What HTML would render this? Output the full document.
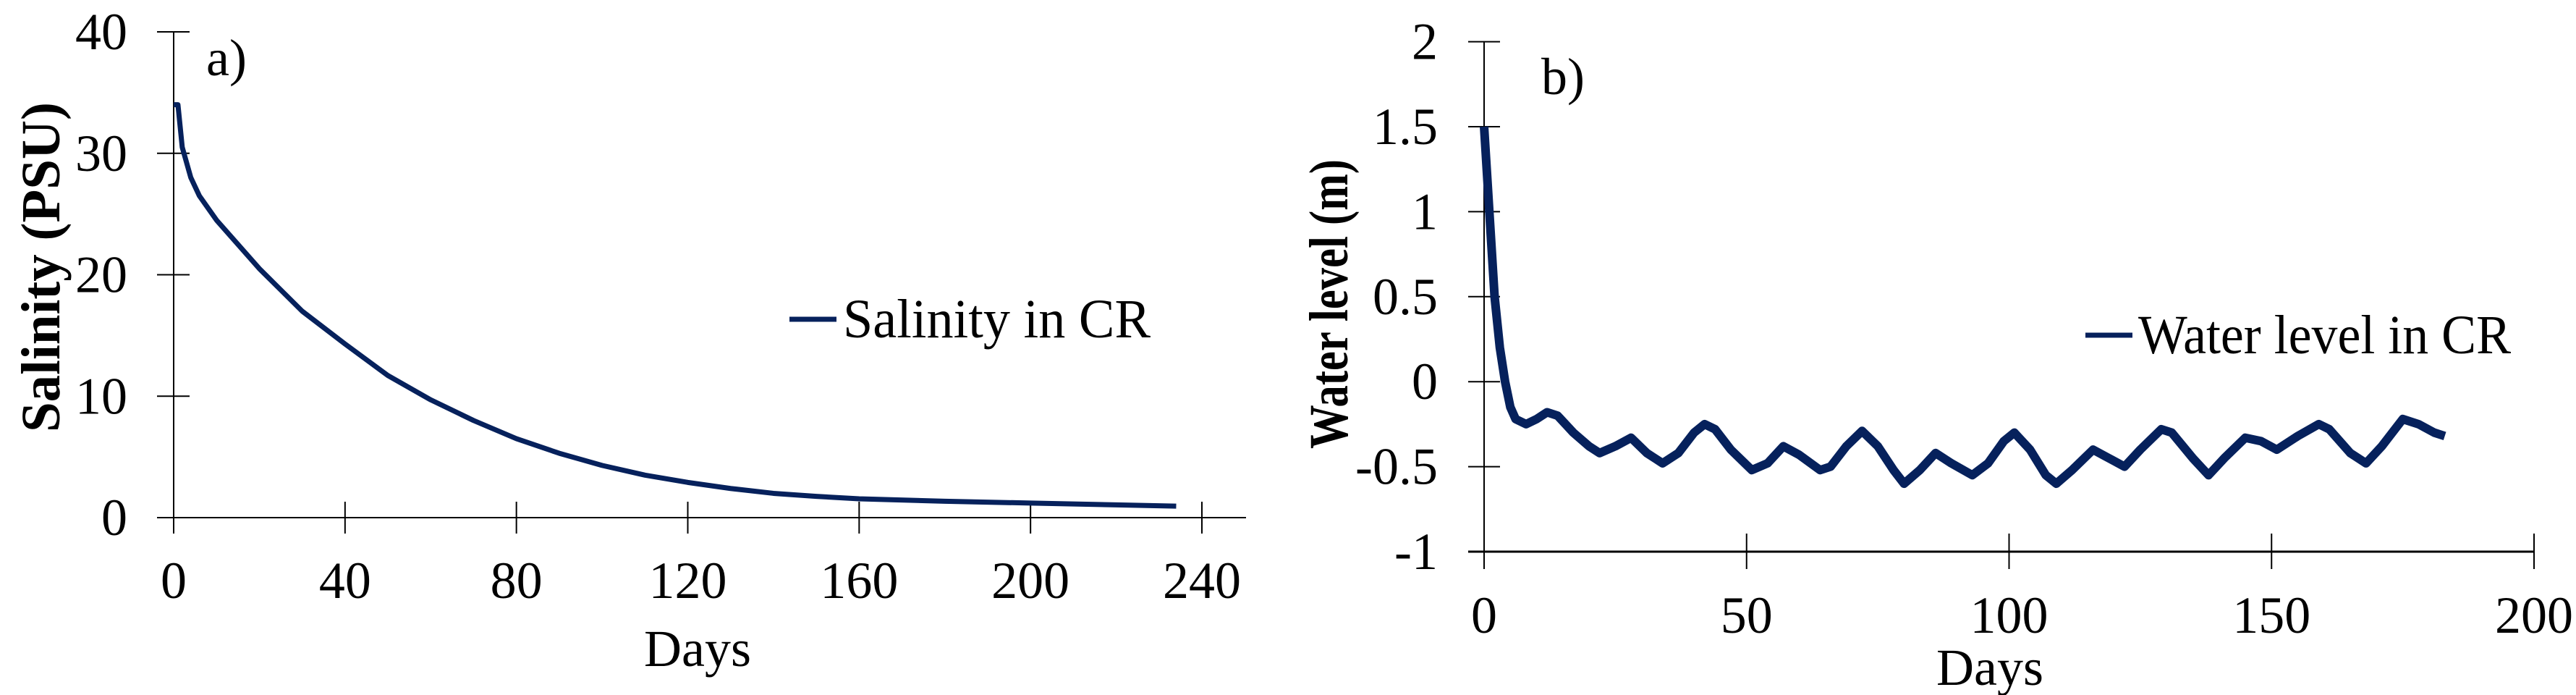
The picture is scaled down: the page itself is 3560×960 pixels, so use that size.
<!DOCTYPE html>
<html><head><meta charset="utf-8"><style>
html,body{margin:0;padding:0;background:#fff;}
svg{display:block;font-family:"Liberation Serif",serif;}
</style></head><body>
<svg id="chart" width="3560" height="960" viewBox="0 0 3560 960"></svg>
<script>
// Panel a data
const daysA = [0,1,2,4,6,10,15,20,30,40,50,60,70,80,90,100,110,120,130,140,150,160,180,200,220,234];
const salinity = [34,34,30.5,28,26.5,24.5,22.5,20.5,17,14.3,11.7,9.7,8,6.5,5.3,4.3,3.5,2.9,2.4,2.0,1.75,1.55,1.35,1.2,1.05,0.95];
const xTicksA = [0,40,80,120,160,200,240];
const yTicksA = [0,10,20,30,40];
// Panel b data
const daysB = [0,1,2,3,4,5,6,8,10,12,14,17,20,22,25,28,31,34,37,40,42,44,47,51,54,57,60,64,66,69,72,75,78,80,83,86,89,93,96,99,101,104,107,109,112,116,119,122,125,129,131,135,138,141,145,148,151,155,159,161,165,168,171,175,178,181,183];
const level = [1.5,1.0,0.5,0.2,0.0,-0.15,-0.22,-0.25,-0.22,-0.18,-0.2,-0.3,-0.38,-0.42,-0.38,-0.33,-0.42,-0.48,-0.42,-0.3,-0.25,-0.28,-0.4,-0.52,-0.48,-0.38,-0.43,-0.52,-0.5,-0.38,-0.29,-0.38,-0.52,-0.6,-0.52,-0.42,-0.48,-0.55,-0.48,-0.35,-0.3,-0.4,-0.55,-0.6,-0.52,-0.4,-0.45,-0.5,-0.4,-0.28,-0.3,-0.45,-0.55,-0.45,-0.33,-0.35,-0.4,-0.32,-0.25,-0.28,-0.42,-0.48,-0.38,-0.22,-0.25,-0.3,-0.32];
const xTicksB = [0,50,100,150,200];
const yTicksB = [-1,-0.5,0,0.5,1,1.5,2];

const svg = document.getElementById('chart');
const NS = 'http://www.w3.org/2000/svg';
function mk(tag, attrs, text){
  const e = document.createElementNS(NS, tag);
  for (const k in attrs) e.setAttribute(k, attrs[k]);
  if (text !== undefined) e.textContent = text;
  svg.appendChild(e);
  return e;
}
const LINE = '#06215c';
const FS = 72;

// ---------- Panel a ----------
const xA = d => 240 + (d - 0) / 240 * (1661 - 240);
const yA = v => 715 - v / 40 * (715 - 44);
let e;
e = mk('line',{x1:240,y1:44,x2:240,y2:715,stroke:'#000','stroke-width':2});
 
e = mk('line',{x1:218,y1:715,x2:1722,y2:715,stroke:'#000','stroke-width':2});
 
yTicksA.forEach(v=>{
  const t = mk('line',{x1:217,y1:yA(v),x2:262,y2:yA(v),stroke:'#000','stroke-width':2});
   
  const l = mk('text',{x:176,y:yA(v)+24,'text-anchor':'end','font-size':FS},String(v));
   
});
xTicksA.forEach(v=>{
  const t = mk('line',{x1:xA(v),y1:693,x2:xA(v),y2:737,stroke:'#000','stroke-width':2});
   
  const l = mk('text',{x:xA(v),y:826,'text-anchor':'middle','font-size':FS},String(v));
   
});
e = mk('text',{x:964,y:920,'text-anchor':'middle','font-size':FS},'Days');
 
e = mk('text',{x:0,y:0,'text-anchor':'middle','font-size':76,'font-weight':'bold',textLength:456,lengthAdjust:'spacingAndGlyphs',transform:'translate(82,369) rotate(-90)'},'Salinity (PSU)');
 
e = mk('text',{x:285,y:104,'font-size':FS},'a)');
 
e = mk('polyline',{points:daysA.map((d,i)=>xA(d)+','+yA(salinity[i])).join(' '),fill:'none',stroke:LINE,'stroke-width':7,'stroke-linejoin':'round'});
 
e = mk('line',{x1:1091,y1:441,x2:1156,y2:441,stroke:LINE,'stroke-width':7});
 
e = mk('text',{x:1165,y:466,'font-size':76,textLength:425,lengthAdjust:'spacingAndGlyphs'},'Salinity in CR');
 

// ---------- Panel b ----------
const xB = d => 2051 + d / 200 * (3502 - 2051);
const yB = v => 762 - (v + 1) / 3 * (762 - 57.6);
e = mk('line',{x1:2051,y1:57,x2:2051,y2:762,stroke:'#000','stroke-width':2});
 
e = mk('line',{x1:2029,y1:762,x2:3502,y2:762,stroke:'#000','stroke-width':3});
 
yTicksB.forEach(v=>{
  const t = mk('line',{x1:2029,y1:yB(v),x2:2073,y2:yB(v),stroke:'#000','stroke-width':2});
   
  const l = mk('text',{x:1987,y:yB(v)+24,'text-anchor':'end','font-size':FS},String(v));
   
});
xTicksB.forEach(v=>{
  const t = mk('line',{x1:xB(v),y1:737,x2:xB(v),y2:786,stroke:'#000','stroke-width':2});
   
  const l = mk('text',{x:xB(v),y:874,'text-anchor':'middle','font-size':FS},String(v));
   
});
e = mk('text',{x:2750,y:946,'text-anchor':'middle','font-size':FS},'Days');
 
e = mk('text',{x:0,y:0,'text-anchor':'middle','font-size':76,'font-weight':'bold',textLength:400,lengthAdjust:'spacingAndGlyphs',transform:'translate(1862,420) rotate(-90)'},'Water level (m)');
 
e = mk('text',{x:2130,y:130,'font-size':FS},'b)');
 
e = mk('polyline',{points:daysB.map((d,i)=>xB(d)+','+yB(level[i])).join(' '),fill:'none',stroke:LINE,'stroke-width':12,'stroke-linejoin':'round'});
 
e = mk('line',{x1:2882,y1:463,x2:2947,y2:463,stroke:LINE,'stroke-width':7});
 
e = mk('text',{x:2955,y:488,'font-size':76,textLength:515,lengthAdjust:'spacingAndGlyphs'},'Water level in CR');
 
</script>
</body></html>
